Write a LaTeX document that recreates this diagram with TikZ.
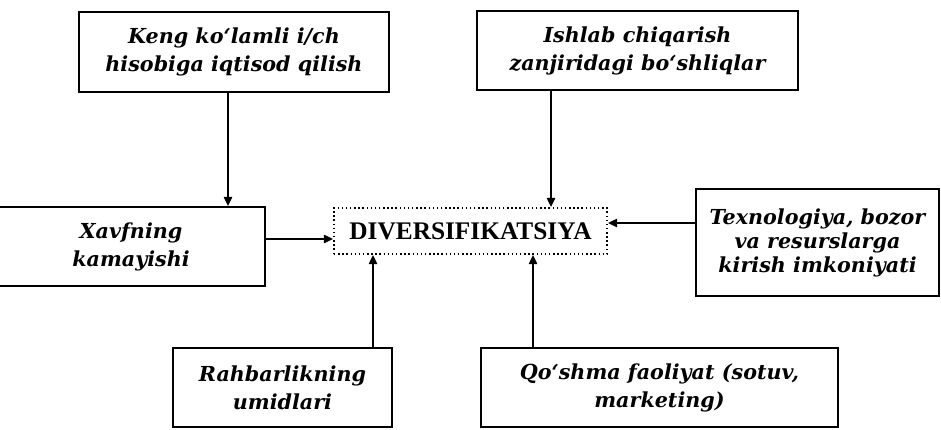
\documentclass[tikz,border=0pt]{standalone}
\usepackage{fontspec}
\setmainfont{DejaVu Serif}
\newfontfamily\capsfont{Liberation Serif}
\usetikzlibrary{arrows.meta}

\tikzset{every picture/.style={line width=0.75pt}}
\tikzset{
  factor/.style={draw, line width=1.1pt, inner sep=0pt, align=center,
    font=\bfseries\itshape\fontsize{15.5}{21}\selectfont},
  link/.style={line width=2pt, -{Triangle[length=7pt,width=6pt]}},
}

\begin{document}
\begin{tikzpicture}[x=0.75pt,y=0.75pt,yscale=-1,xscale=1]
    \useasboundingbox (0,0) rectangle (941,429);

    % Text Node
    \node [factor, minimum width=232.5pt, minimum height=60pt] (keng) at (234,52) {Keng ko‘lamli i/ch\\hisobiga iqtisod qilish};
    % Text Node
    \node [factor, minimum width=240.75pt, minimum height=59.25pt] (ishlab) at (637.5,50.5) {Ishlab chiqarish\\zanjiridagi bo‘shliqlar};
    % Text Node
    \node [factor, minimum width=201pt, minimum height=59.25pt] (xavf) at (131,246.5) {Xavfning\\kamayishi};
    % Text Node
    \node [draw, dotted, line width=1.1pt, inner sep=0pt, minimum width=204.75pt, minimum height=34.5pt,
      font=\capsfont\bfseries\fontsize{19}{20}\selectfont] (div) at (470.5,231) {DIVERSIFIKATSIYA};
    % Text Node
    \node [factor, minimum width=182.25pt, minimum height=80.25pt,
      font=\bfseries\itshape\fontsize{15.5}{18}\selectfont] (texno) at (817.5,242.5) {Texnologiya, bozor\\va resurslarga\\kirish imkoniyati};
    % Text Node
    \node [factor, minimum width=164.25pt, minimum height=59.25pt] (rahbar) at (282.5,387.5) {Rahbarlikning\\umidlari};
    % Text Node
    \node [factor, minimum width=267.75pt, minimum height=59.25pt] (qoshma) at (659.5,387.5) {Qo‘shma faoliyat (sotuv,\\marketing)};

    %Straight Lines
    \coordinate (kengx) at (228,0);
    \draw [link] (keng.south -| kengx) -- (xavf.north -| kengx);
    %Straight Lines
    \coordinate (ishx) at (551,0);
    \draw [link] (ishlab.south -| ishx) -- (div.north -| ishx);
    %Straight Lines
    \coordinate (xavfy) at (0,239);
    \draw [link] (xavf.east |- xavfy) -- (div.west |- xavfy);
    %Straight Lines
    \coordinate (texy) at (0,223);
    \draw [link] (texno.west |- texy) -- (div.east |- texy);
    %Straight Lines
    \coordinate (rahx) at (373,0);
    \draw [link] (rahbar.north -| rahx) -- (div.south -| rahx);
    %Straight Lines
    \coordinate (qosx) at (533,0);
    \draw [link] (qoshma.north -| qosx) -- (div.south -| qosx);

\end{tikzpicture}
\end{document}
